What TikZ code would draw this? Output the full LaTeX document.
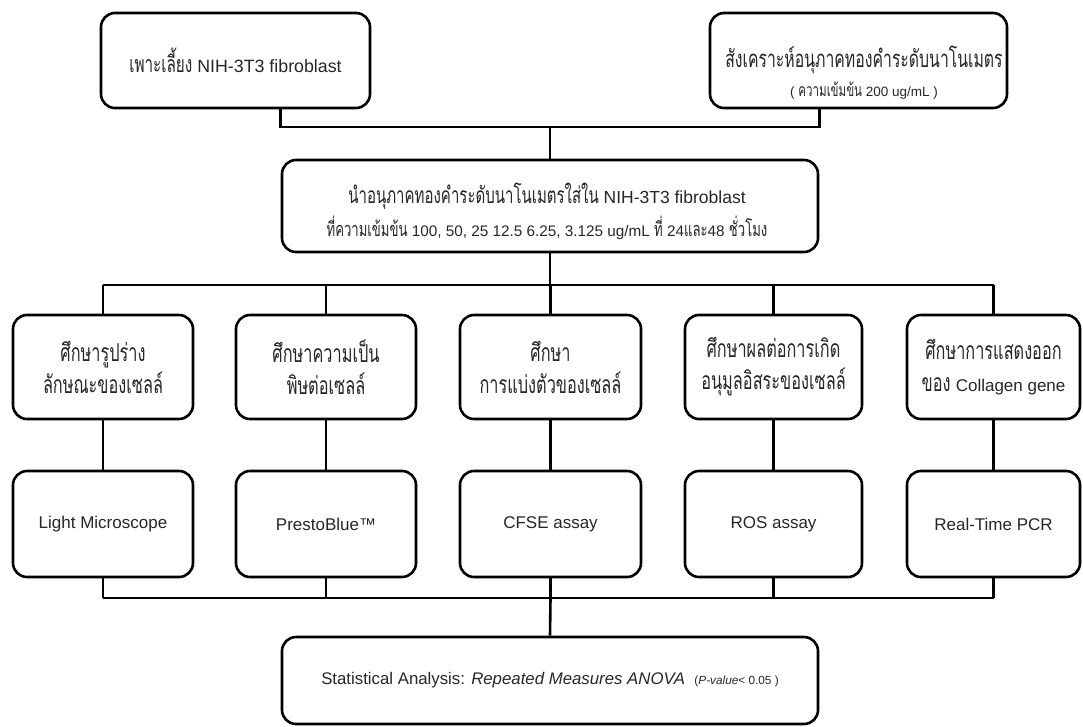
\documentclass[tikz,border=0pt]{standalone}
\usepackage{fontspec}
\setmainfont{Liberation Sans}
\newfontfamily\thf[Script=Thai,Scale=1.3,FakeStretch=0.66]{Loma}
\newcommand\fs[2]{\fontsize{#1}{#2}\selectfont}
\begin{document}
\begin{tikzpicture}[x=1pt,y=-1pt,
  rbox/.style={draw, line width=2.6pt, rounded corners=14pt, inner sep=0pt, align=center, text=black!85},
  conn/.style={line width=2.6pt},
  txt/.style={align=center, inner sep=0pt, text=black!85}]
\useasboundingbox (0,0) rectangle (1083,726);
% top row
\node[rbox, minimum width=269pt, minimum height=95pt, font=\fs{17.8}{20}] (A) at (235.5,60.5)
  {{\thf เพาะเลี้ยง} NIH-3T3 fibroblast};
\node[rbox, minimum width=297pt, minimum height=95pt] (B) at (858.5,60.5) {};
\node[txt, font=\fs{18.4}{29}] (Bt) at (864,73)
  {{\thf สังเคราะห์อนุภาคทองคำระดับนาโนเมตร}\\{\fs{13.5}{14}( {\thf ความเข้มข้น} 200 ug/mL )}};
% middle
\node[rbox, minimum width=536pt, minimum height=92pt] (C) at (550,206) {};
\node[txt, font=\fs{17.5}{33}] (Ct) at (547,211)
  {{\thf นำอนุภาคทองคำระดับนาโนเมตรใส่ใน} NIH-3T3 fibroblast\\
   {\fs{15.3}{33}{\thf ที่ความเข้มข้น} 100, 50, 25 12.5 6.25, 3.125 ug/mL {\thf ที่} 24{\thf และ}48 {\thf ชั่วโมง}}};
% row 2
\begin{scope}[every node/.append style={rbox, minimum height=104pt, font=\fs{19}{32}}]
\node[minimum width=180pt] (n1) at (103,367) {{\thf ศึกษารูปร่าง}\\{\thf ลักษณะของเซลล์}};
\node[minimum width=180pt] (n2) at (326,367) {{\thf ศึกษาความเป็น}\\{\thf พิษต่อเซลล์}};
\node[minimum width=181pt] (n3) at (550.5,367) {{\thf ศึกษา}\\{\thf การแบ่งตัวของเซลล์}};
\node[minimum width=177pt] (n4) at (773.5,367) {{\thf ศึกษาผลต่อการเกิด}\\{\thf อนุมูลอิสระของเซลล์}};
\node[minimum width=173pt] (n5) at (993.5,367) {{\thf ศึกษาการแสดงออก}\\{\thf ของ} {\fs{17}{32}Collagen gene}};
\end{scope}
% row 3
\begin{scope}[every node/.append style={rbox, minimum height=106pt, font=\fs{17}{20}}]
\node[minimum width=180pt] (m1) at (103,524) {Light Microscope};
\node[minimum width=180pt] (m2) at (326,524) {PrestoBlue™};
\node[minimum width=181pt] (m3) at (550.5,524) {CFSE assay};
\node[minimum width=177pt] (m4) at (773.5,524) {ROS assay};
\node[minimum width=173pt] (m5) at (993.5,524) {Real-Time PCR};
\end{scope}
% bottom
\node[rbox, minimum width=536pt, minimum height=87pt, font=\fs{16.8}{20}] (D) at (550,680.5)
  {Statistical Analysis: \textit{Repeated Measures ANOVA} \ {\fs{11.8}{14}(\textit{P-value}< 0.05 )}};
% connectors
\coordinate (j1) at (550,127);
\draw[conn] (C.north west |- A.south) |- (j1) -| (C.north east |- B.south);
\draw[conn] (j1) -- (C.north);
\coordinate (j2) at (550,285);
\draw[conn] (C.south) -- (j2);
\draw[conn] (j2 -| n1) -- (j2 -| n5);
\foreach \k in {1,...,5}{
  \draw[conn] (j2 -| n\k) -- (n\k.north);
  \draw[conn] (n\k.south) -- (m\k.north);
}
\coordinate (j3) at (550.5,598);
\draw[conn] (j3 -| m1) -- (j3 -| m5);
\foreach \k in {1,...,5}{
  \draw[conn] (m\k.south) -- (j3 -| m\k);
}
\draw[conn] (j3) -- (D.north);
\end{tikzpicture}
\end{document}
